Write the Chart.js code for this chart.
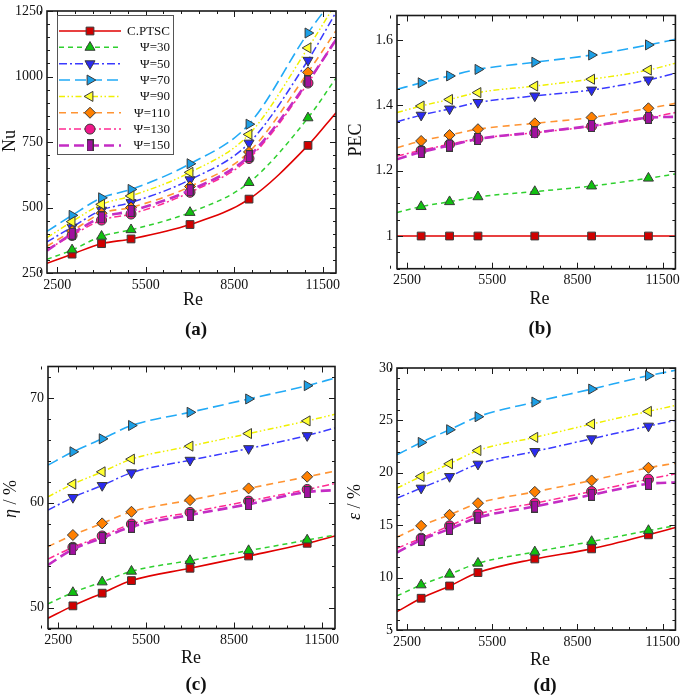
<!DOCTYPE html>
<html><head><meta charset="utf-8">
<script src="https://cdn.jsdelivr.net/npm/chart.js@4.4.1/dist/chart.umd.min.js"></script>
<style>
html,body{margin:0;padding:0;background:#fff;}
#wrap{position:relative;width:685px;height:698px;background:#fff;}
#wrap canvas{position:absolute;left:0;top:0;}
</style></head><body>
<div id="wrap">
<canvas id="ca" width="685" height="698"></canvas>
<canvas id="cb" width="685" height="698"></canvas>
<canvas id="cc" width="685" height="698"></canvas>
<canvas id="cd" width="685" height="698"></canvas>
</div>
<script>
// ---------------- data ----------------
const RE = [3000, 4000, 5000, 7000, 9000, 11000];
const RE_EDGES = [2150, 11950];
const SERIES = ['C.PTSC', 'Ψ=30', 'Ψ=50', 'Ψ=70', 'Ψ=90', 'Ψ=110', 'Ψ=130', 'Ψ=150'];
const X_TICKS = [2500, 5500, 8500, 11500];

// (a) Nu
const nuCPTSC = [322, 362, 380, 435, 532, 737];
const nuPsi30 = [338, 390, 415, 481, 595, 842];
const nuPsi50 = [425, 490, 519, 606, 746, 1062];
const nuPsi70 = [470, 537, 569, 667, 818, 1166];
const nuPsi90 = [446, 512, 544, 634, 779, 1109];
const nuPsi110 = [410, 478, 500, 580, 712, 1016];
const nuPsi130 = [393, 452, 475, 558, 687, 975];
const nuPsi150 = [400, 462, 487, 566, 696, 981];
const nuEdgeLeft = [287, 302, 369, 409, 385, 352, 340, 335];
const nuEdgeRight = [862, 994, 1245, 1310, 1280, 1175, 1144, 1140];
const nuTicks = [250, 500, 750, 1000, 1250];

// (b) PEC
const pecCPTSC = [1, 1, 1, 1, 1, 1];
const pecPsi30 = [1.090, 1.105, 1.120, 1.136, 1.153, 1.177];
const pecPsi50 = [1.370, 1.389, 1.409, 1.429, 1.447, 1.478];
const pecPsi70 = [1.469, 1.490, 1.510, 1.532, 1.554, 1.585];
const pecPsi90 = [1.398, 1.418, 1.439, 1.459, 1.480, 1.508];
const pecPsi110 = [1.291, 1.309, 1.327, 1.345, 1.363, 1.391];
const pecPsi130 = [1.262, 1.281, 1.298, 1.316, 1.336, 1.362];
const pecPsi150 = [1.257, 1.277, 1.297, 1.317, 1.337, 1.362];
const pecEdgeLeft = [1, 1.072, 1.350, 1.449, 1.378, 1.270, 1.245, 1.235];
const pecEdgeRight = [1, 1.190, 1.498, 1.602, 1.529, 1.406, 1.378, 1.365];
const pecTicks = [1, 1.2, 1.4, 1.6];

// (c) eta / %
const etaCPTSC = [50.16, 51.37, 52.57, 53.75, 54.92, 56.13];
const etaPsi30 = [51.43, 52.44, 53.46, 54.48, 55.43, 56.44];
const etaPsi50 = [60.51, 61.65, 62.86, 64.06, 65.17, 66.41];
const etaPsi70 = [64.86, 66.10, 67.37, 68.63, 69.90, 71.17];
const etaPsi90 = [61.78, 62.95, 64.16, 65.40, 66.60, 67.81];
const etaPsi110 = [56.92, 58.03, 59.14, 60.25, 61.37, 62.48];
const etaPsi130 = [55.75, 56.83, 57.97, 59.08, 60.16, 61.27];
const etaPsi150 = [55.56, 56.63, 57.71, 58.83, 59.87, 61.02];
const etaEdgeLeft = [48.98, 50.35, 59.30, 63.59, 60.57, 55.81, 54.63, 54.06];
const etaEdgeRight = [56.83, 56.92, 67.14, 71.90, 68.44, 63.02, 61.84, 61.21];
const etaTicks = [50, 60, 70];

// (d) epsilon / %
const epsCPTSC = [8.03, 9.20, 10.48, 11.78, 12.74, 14.08];
const epsPsi30 = [9.30, 10.32, 11.37, 12.45, 13.44, 14.49];
const epsPsi50 = [18.54, 19.65, 20.83, 22.04, 23.25, 24.46];
const epsPsi70 = [22.90, 24.11, 25.35, 26.75, 27.99, 29.27];
const epsPsi90 = [19.65, 20.86, 22.13, 23.38, 24.65, 25.86];
const epsPsi110 = [14.94, 15.99, 17.10, 18.18, 19.27, 20.48];
const epsPsi130 = [13.76, 14.94, 16.05, 17.10, 18.22, 19.39];
const epsPsi150 = [13.60, 14.65, 15.73, 16.78, 17.90, 18.95];
const epsEdgeLeft = [6.75, 8.25, 17.58, 21.72, 18.54, 13.85, 12.80, 12.39];
const epsEdgeRight = [14.78, 14.94, 25.0, 29.78, 26.43, 20.92, 19.90, 19.08];
const epsTicks = [5, 10, 15, 20, 25, 30];

// ---------------- styles ----------------
const FONT = "'Liberation Serif', 'Times New Roman', serif";
const purpleImg = (() => {
  const c = document.createElement('canvas');
  c.width = 7; c.height = 12;
  const g = c.getContext('2d');
  g.fillStyle = '#a0109f'; g.fillRect(0.5, 0.5, 6, 11);
  g.strokeStyle = '#3a3a3a'; g.lineWidth = 1; g.strokeRect(0.5, 0.5, 6, 11);
  return c;
})();
const STYLES = [
  {line: '#e00000', fill: '#d00000', dash: [], width: 1.6, point: 'rect', rot: 0, r: 5.5},
  {line: '#2fd02f', fill: '#10c010', dash: [5, 4], width: 1.5, point: 'triangle', rot: 0, r: 5.8},
  {line: '#3a3aff', fill: '#2a2af0', dash: [8, 3, 2, 3], width: 1.5, point: 'triangle', rot: 180, r: 5.8},
  {line: '#22aaf6', fill: '#1c9fe6', dash: [11, 5], width: 1.6, point: 'triangle', rot: 90, r: 5.8},
  {line: '#f0f000', fill: '#ffff30', dash: [6, 2.5, 1.5, 2.5, 1.5, 2.5], width: 1.5, point: 'triangle', rot: 270, r: 5.8},
  {line: '#ff9433', fill: '#ff8000', dash: [7, 5], width: 1.6, point: 'rectRot', rot: 0, r: 5.5},
  {line: '#ff2a92', fill: '#f0188a', dash: [7, 3, 2, 3], width: 1.5, point: 'circle', rot: 0, r: 5},
  {line: '#c42cc4', fill: '#a0109f', dash: [10, 5], width: 2.6, point: purpleImg, rot: 0, r: 5}
];

// ---------------- plugins ----------------
const framePlugin = {
  id: 'frame',
  afterDatasetsDraw(chart, args, o) {
    const {ctx, chartArea: a, scales: {x, y}} = chart;
    ctx.save();
    ctx.strokeStyle = '#1a1a1a';
    ctx.lineWidth = 1;
    const seg = (x1, y1, x2, y2) => { ctx.beginPath(); ctx.moveTo(x1, y1); ctx.lineTo(x2, y2); ctx.stroke(); };
    const xt = (v, len) => { const p = Math.round(x.getPixelForValue(v)) + 0.5; seg(p, a.bottom, p, a.bottom - len); seg(p, a.top, p, a.top + len); };
    const yt = (v, len) => { const p = Math.round(y.getPixelForValue(v)) + 0.5; seg(a.left, p, a.left + len, p); seg(a.right, p, a.right - len, p); };
    for (let v = o.xMinorStart; v <= x.max; v += o.xMinorStep) xt(v, 3);
    X_TICKS.forEach(v => xt(v, 6));
    for (let v = o.yMinorStart; v <= y.max + 1e-9; v += o.yMinorStep) yt(v, 3);
    o.yMajor.forEach(v => yt(v, 6));
    ctx.lineWidth = 1.6;
    ctx.strokeRect(a.left, a.top, a.right - a.left, a.bottom - a.top);
    ctx.restore();
  }
};

const textPlugin = {
  id: 'panelText',
  afterDraw(chart, args, o) {
    const ctx = chart.ctx;
    ctx.save();
    ctx.fillStyle = '#111';
    ctx.textBaseline = 'middle';
    ctx.textAlign = 'center';
    ctx.font = '18px ' + FONT;
    ctx.fillText('Re', o.re[0], o.re[1]);
    ctx.font = 'bold 19px ' + FONT;
    ctx.fillText(o.label, o.lab[0], o.lab[1]);
    ctx.translate(o.yt[0], o.yt[1]);
    ctx.rotate(-Math.PI / 2);
    const fontOf = it => (it ? 'italic ' : '') + '18px ' + FONT;
    let total = 0;
    o.ytitle.forEach(p => { ctx.font = fontOf(p[1]); total += ctx.measureText(p[0]).width; });
    let cx = -total / 2;
    ctx.textAlign = 'left';
    o.ytitle.forEach(p => { ctx.font = fontOf(p[1]); ctx.fillText(p[0], cx, 0); cx += ctx.measureText(p[0]).width; });
    ctx.restore();
  }
};

const legendPlugin = {
  id: 'boxLegend',
  afterDraw(chart, args, o) {
    if (!o || !o.show) return;
    const ctx = chart.ctx;
    ctx.save();
    ctx.fillStyle = '#fff';
    ctx.fillRect(o.x, o.y, o.w, o.h);
    ctx.strokeStyle = '#555';
    ctx.lineWidth = 1;
    ctx.strokeRect(o.x + 0.5, o.y + 0.5, o.w, o.h);
    chart.data.datasets.forEach((ds, i) => {
      const yy = o.row0 + i * o.rowStep;
      ctx.setLineDash(ds.borderDash || []);
      ctx.strokeStyle = ds.borderColor;
      ctx.lineWidth = ds.borderWidth;
      ctx.beginPath(); ctx.moveTo(o.lx0, yy); ctx.lineTo(o.lx1, yy); ctx.stroke();
      ctx.setLineDash([]);
      ctx.fillStyle = ds.pointBackgroundColor;
      ctx.strokeStyle = ds.pointBorderColor;
      ctx.lineWidth = 1;
      Chart.helpers.drawPoint(ctx, {pointStyle: ds.pointStyle, rotation: ds.pointRotation, radius: ds.markerR, borderWidth: 1}, o.mx, yy);
      ctx.fillStyle = '#111';
      ctx.font = '13px ' + FONT;
      ctx.textAlign = 'right';
      ctx.textBaseline = 'middle';
      ctx.fillText(ds.label, o.tx, yy + 0.5);
    });
    ctx.restore();
  }
};

// ---------------- builder ----------------
const Y_W = 40, X_H = 30, W = 685, H = 698;
function makePanel(id, p) {
  const datasets = p.series.map((vals, i) => {
    const st = STYLES[i];
    const pts = [{x: RE_EDGES[0], y: p.left[i]}]
      .concat(RE.map((r, k) => ({x: r, y: vals[k]})))
      .concat([{x: RE_EDGES[1], y: p.right[i]}]);
    const n = pts.length;
    const rad = c => (c.dataIndex === 0 || c.dataIndex === n - 1) ? 0 : st.r;
    return {
      label: SERIES[i], data: pts, showLine: true,
      borderColor: st.line, borderWidth: st.width, borderDash: st.dash,
      backgroundColor: st.fill, pointBackgroundColor: st.fill, pointBorderColor: '#3a3a3a', pointBorderWidth: 1,
      pointStyle: st.point, pointRotation: st.rot, pointRadius: rad, pointHoverRadius: rad, markerR: st.r,
      cubicInterpolationMode: 'monotone', order: 7 - i
    };
  });
  const tickFont = {family: FONT, size: 14, lineHeight: 1};
  return new Chart(document.getElementById(id), {
    type: 'scatter',
    data: {datasets},
    options: {
      responsive: false, animation: false, events: [],
      layout: {padding: {left: p.area[0] - Y_W, top: p.area[1], right: W - p.area[2], bottom: H - p.area[3] - X_H}},
      scales: {
        x: {
          type: 'linear', min: RE_EDGES[0], max: RE_EDGES[1],
          afterBuildTicks: s => { s.ticks = X_TICKS.map(v => ({value: v})); },
          afterFit: s => { s.height = X_H; },
          grid: {display: false, drawTicks: false}, border: {display: false},
          ticks: {font: tickFont, color: '#111', padding: 5, maxRotation: 0, autoSkip: false, callback: v => String(v)}
        },
        y: {
          type: 'linear', min: p.ymin, max: p.ymax,
          afterBuildTicks: s => { s.ticks = p.yTicks.map(v => ({value: v})); },
          afterFit: s => { s.width = Y_W; },
          grid: {display: false, drawTicks: false}, border: {display: false},
          ticks: {font: tickFont, color: '#111', padding: 4, autoSkip: false, callback: v => String(v)}
        }
      },
      plugins: {
        legend: {display: false}, tooltip: {enabled: false},
        frame: {xMinorStart: 1900, xMinorStep: 600, yMinorStart: p.ymin, yMinorStep: p.yMinor, yMajor: p.yTicks},
        panelText: p.text,
        boxLegend: p.legend || {show: false}
      }
    },
    plugins: [framePlugin, textPlugin, legendPlugin]
  });
}

makePanel('ca', {
  area: [47, 7, 336, 273],
  ymin: 250, ymax: 1250, yTicks: nuTicks, yMinor: 50,
  series: [nuCPTSC, nuPsi30, nuPsi50, nuPsi70, nuPsi90, nuPsi110, nuPsi130, nuPsi150],
  left: nuEdgeLeft, right: nuEdgeRight,
  text: {re: [193, 300], lab: [196, 330], label: '(a)', yt: [10, 141], ytitle: [['Nu', false]]},
  legend: {show: true, x: 57, y: 15, w: 116, h: 139, row0: 31, rowStep: 16.35, lx0: 59, lx1: 121, mx: 90, tx: 170}
});
makePanel('cb', {
  area: [397, 15.5, 682, 268.7],
  ymin: 0.9, ymax: 1.675, yTicks: pecTicks, yMinor: 0.05,
  series: [pecCPTSC, pecPsi30, pecPsi50, pecPsi70, pecPsi90, pecPsi110, pecPsi130, pecPsi150],
  left: pecEdgeLeft, right: pecEdgeRight,
  text: {re: [539.5, 299], lab: [540, 329], label: '(b)', yt: [356, 140], ytitle: [['PEC', false]]}
});
makePanel('cc', {
  area: [48, 366.5, 335, 628.5],
  ymin: 48, ymax: 73, yTicks: etaTicks, yMinor: 2,
  series: [etaCPTSC, etaPsi30, etaPsi50, etaPsi70, etaPsi90, etaPsi110, etaPsi130, etaPsi150],
  left: etaEdgeLeft, right: etaEdgeRight,
  text: {re: [191, 658], lab: [196, 685], label: '(c)', yt: [11, 499], ytitle: [['η', true], [' / %', false]]}
});
makePanel('cd', {
  area: [397, 368, 683, 630],
  ymin: 5, ymax: 30, yTicks: epsTicks, yMinor: 1,
  series: [epsCPTSC, epsPsi30, epsPsi50, epsPsi70, epsPsi90, epsPsi110, epsPsi130, epsPsi150],
  left: epsEdgeLeft, right: epsEdgeRight,
  text: {re: [540, 660], lab: [545, 686], label: '(d)', yt: [355, 502], ytitle: [['ε', true], [' / %', false]]}
});
</script>
</body></html>
